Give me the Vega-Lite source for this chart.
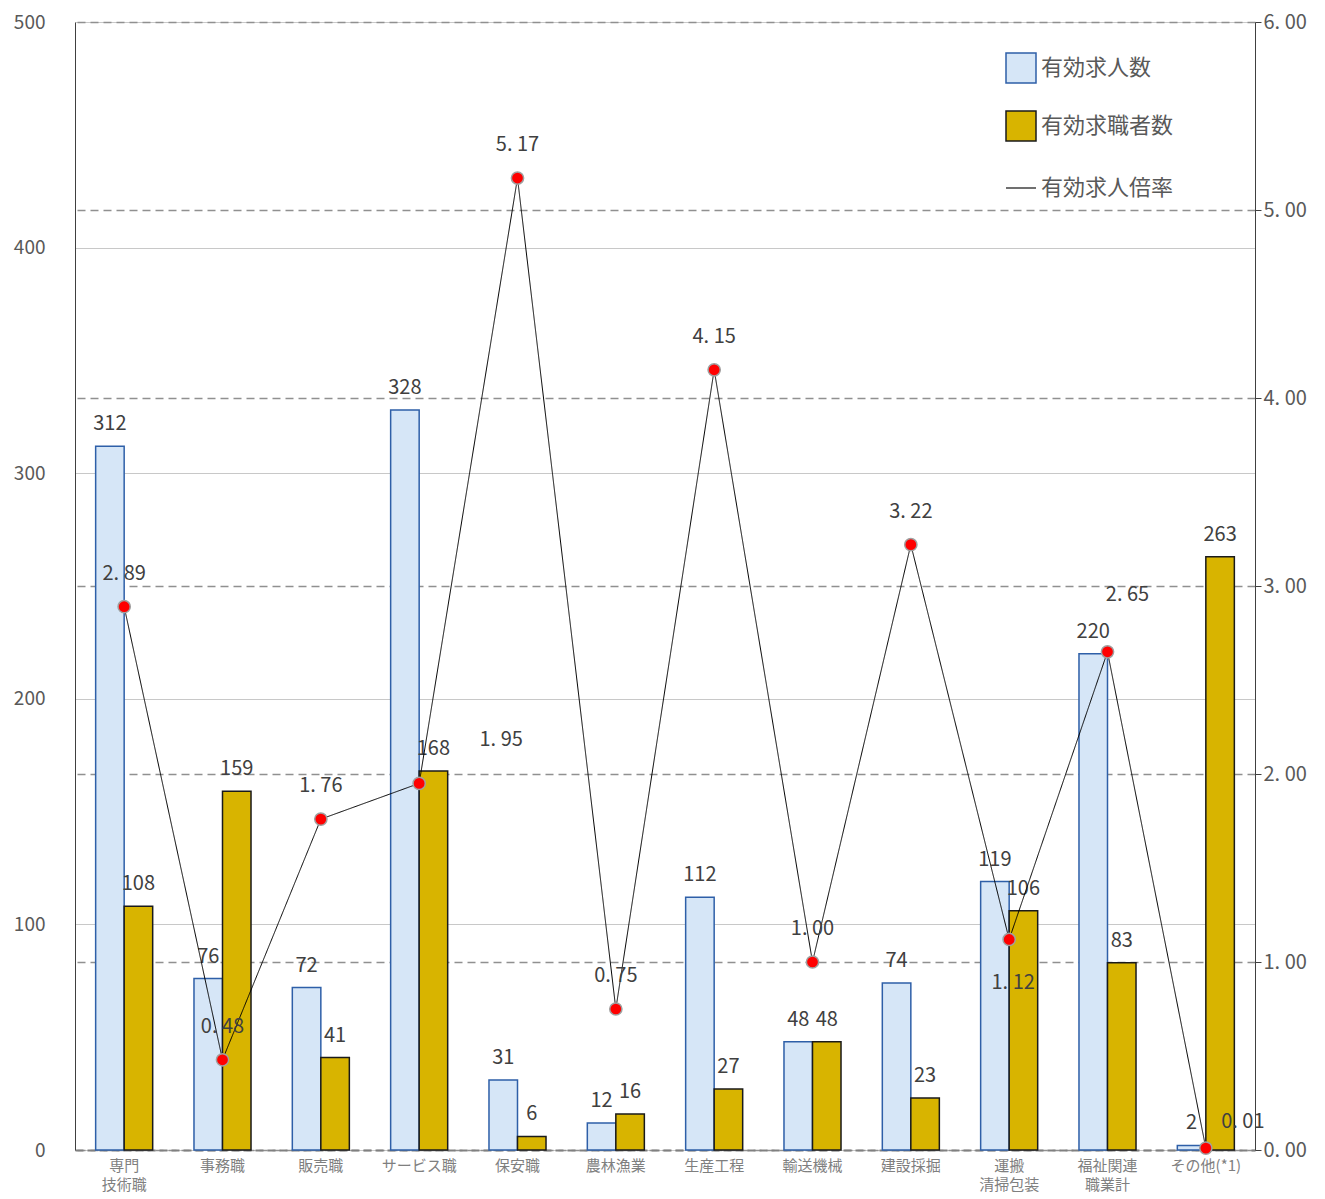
{
"$schema":"https://vega.github.io/schema/vega-lite/v6.json",
"width":1180,"height":1128,
"autosize":{"type":"none"},
"padding":{"left":75,"top":22,"right":70,"bottom":49},
"background":"white",
"config":{"view":{"stroke":null},"font":"Noto Sans CJK JP","axis":{"labelColor":"#595959","labelFontSize":20,"domainColor":"#404040","tickColor":"#404040"}},
"data":{"values":[
{"c":"専門|技術職","a":312,"b":108,"r":2.89},
{"c":"事務職","a":76,"b":159,"r":0.48},
{"c":"販売職","a":72,"b":41,"r":1.76},
{"c":"サービス職","a":328,"b":168,"r":1.95},
{"c":"保安職","a":31,"b":6,"r":5.17},
{"c":"農林漁業","a":12,"b":16,"r":0.75},
{"c":"生産工程","a":112,"b":27,"r":4.15},
{"c":"輸送機械","a":48,"b":48,"r":1.00},
{"c":"建設採掘","a":74,"b":23,"r":3.22},
{"c":"運搬|清掃包装","a":119,"b":106,"r":1.12},
{"c":"福祉関連|職業計","a":220,"b":83,"r":2.65},
{"c":"その他(*1)","a":2,"b":263,"r":0.01}
]},
"encoding":{"x":{"field":"c","type":"nominal","sort":null,"scale":{"paddingInner":0.42,"paddingOuter":0.21},"axis":{"title":null,"labelAngle":0,"labelExpr":"split(datum.label,'|')","labelFontSize":15,"labelLineHeight":19,"labelColor":"#7f7f7f","ticks":false,"labelPadding":8,"domainDash":[8,4],"domainColor":"#808080","domainWidth":2}}},
"layer":[
{"transform":[{"fold":["a","b"],"as":["k","v"]},{"calculate":"datum.k=='a'?'有効求人数':'有効求職者数'","as":"kn"}],
 "encoding":{"y":{"field":"v","type":"quantitative","scale":{"domain":[0,500]},"axis":{"title":null,"values":[0,100,200,300,400,500],"grid":true,"gridColor":"#c8c8c8","gridWidth":1,"ticks":false,"labelPadding":30,"labelFontSize":19,"domainColor":"#404040"}},
   "xOffset":{"field":"kn","sort":["有効求人数","有効求職者数"]}},
 "layer":[
 {"mark":{"type":"bar","strokeWidth":1.5},
  "encoding":{
   "fill":{"field":"kn","type":"nominal","sort":["有効求人数","有効求職者数"],"scale":{"domain":["有効求人数","有効求職者数"],"range":["#d6e6f7","#d8b400"]},"legend":{"title":null,"orient":"none","legendX":930,"legendY":30,"symbolType":"square","symbolSize":900,"labelFontSize":22,"labelColor":"#595959","rowPadding":22,"symbolStrokeWidth":1.5}},
   "stroke":{"field":"kn","type":"nominal","scale":{"domain":["有効求人数","有効求職者数"],"range":["#2e5fa8","#1a1a1a"]},"legend":null}}},
 {"mark":{"type":"text","dy":-22,"fontSize":20,"color":"#404040"},
  "encoding":{"text":{"field":"v"}}}
 ]},
{"transform":[{"calculate":"replace(format(datum.r,'.2f'),'.','. ')","as":"rl"}],
 "encoding":{"y":{"field":"r","type":"quantitative","scale":{"domain":[0,6]},"axis":{"orient":"right","title":null,"values":[0,1,2,3,4,5,6],"format":".2f","labelExpr":"replace(datum.label,'.','. ')","grid":true,"gridDash":[8,5],"gridColor":"#909090","gridWidth":1.5,"tickSize":6,"labelFontSize":20}}},
 "layer":[
 {"mark":{"type":"line","color":"#000","strokeWidth":1},
  "encoding":{"strokeDash":{"datum":"有効求人倍率","type":"nominal","scale":{"range":[[1,0]]},"legend":{"title":null,"orient":"none","legendX":930,"legendY":150,"labelFontSize":22,"labelColor":"#595959","symbolStrokeColor":"#707070","symbolStrokeWidth":2,"symbolSize":900}}}},
 {"mark":{"type":"point","filled":true,"fill":"#ff0000","stroke":"#a0a0a0","strokeWidth":1.5,"size":150,"opacity":1}},
 {"transform":[{"filter":"indexof(['サービス職','福祉関連|職業計','その他(*1)','運搬|清掃包装'],datum.c)<0"}],
  "mark":{"type":"text","dy":-33,"fontSize":20,"color":"#404040"},
  "encoding":{"text":{"field":"rl"}}},
 {"transform":[{"filter":"datum.c=='サービス職'"}],
  "mark":{"type":"text","dx":82,"dy":-43,"fontSize":20,"color":"#404040"},
  "encoding":{"text":{"field":"rl"}}},
 {"transform":[{"filter":"datum.c=='福祉関連|職業計'"}],
  "mark":{"type":"text","dx":20,"dy":-57,"fontSize":20,"color":"#404040"},
  "encoding":{"text":{"field":"rl"}}},
 {"transform":[{"filter":"datum.c=='その他(*1)'"}],
  "mark":{"type":"text","dx":37,"dy":-26,"fontSize":20,"color":"#404040"},
  "encoding":{"text":{"field":"rl"}}},
 {"transform":[{"filter":"datum.c=='運搬|清掃包装'"}],
  "mark":{"type":"text","dx":4,"dy":44,"fontSize":20,"color":"#404040"},
  "encoding":{"text":{"field":"rl"}}}
 ]}
],
"resolve":{"scale":{"y":"independent","xOffset":"independent"}}
}
